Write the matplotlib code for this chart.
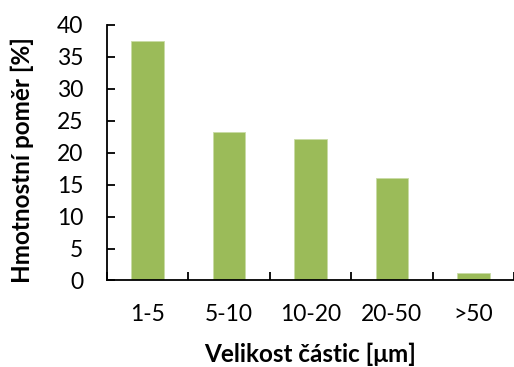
import matplotlib.pyplot as plt
import numpy as np

sizes = ['1-5', '5-10', '10-20', '20-50', '>50']
share = [37.5, 23.2, 22.1, 16.0, 1.1]

plt.rcParams['font.family'] = ['Lato', 'DejaVu Sans']

fig = plt.figure(figsize=(5.14, 3.67), dpi=100)
ax = fig.add_axes([0.208, 0.2357, 0.792, 0.6962])

x = np.arange(len(sizes))
ax.bar(x, share, width=0.4, color='#9bbb59', edgecolor='#c9dba6', linewidth=0.6)

ax.set_xlim(-0.5, len(sizes) - 0.5)
ax.set_ylim(0, 40)
ax.set_yticks(np.arange(0, 41, 5))
ax.set_xticks(x)
ax.set_xticklabels(sizes)
ax.set_xticks(np.arange(-0.5, len(sizes)), minor=True)

for s in ['top', 'right']:
    ax.spines[s].set_visible(False)
for s in ['left', 'bottom']:
    ax.spines[s].set_linewidth(1.3)
    ax.spines[s].set_color('black')

ax.tick_params(axis='y', direction='in', length=6, width=1.3, pad=17, labelsize=16.5)
ax.tick_params(axis='x', which='major', length=0, pad=17, labelsize=16.5)
ax.tick_params(axis='x', which='minor', direction='in', length=6, width=1.3)

ax.set_xlabel('Velikost částic [μm]', fontsize=17.5, fontweight='bold')
ax.set_ylabel('Hmotnostní poměr [%]', fontsize=17.5, fontweight='bold')
ax.xaxis.set_label_coords(0.5, -0.245)
ax.yaxis.set_label_coords(-0.18, 0.47)

fig.savefig('out.png', dpi=100)
